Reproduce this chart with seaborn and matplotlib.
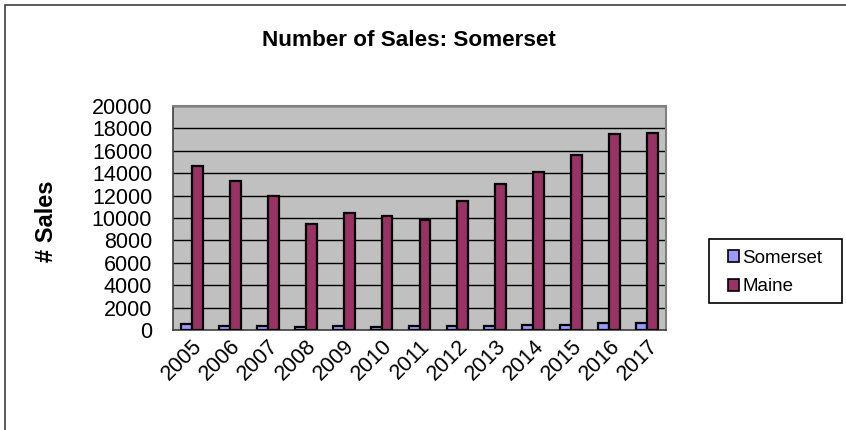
import pandas as pd
import matplotlib
matplotlib.use("Agg")
import matplotlib.pyplot as plt
from matplotlib.patches import Rectangle
from matplotlib.ticker import FixedLocator
import seaborn as sns

years = ["2005", "2006", "2007", "2008", "2009", "2010", "2011",
         "2012", "2013", "2014", "2015", "2016", "2017"]
somerset = [500, 380, 320, 265, 320, 265, 320, 320, 380, 440, 470, 590, 600]
maine = [14630, 13310, 11970, 9500, 10420, 10180, 9850,
         11490, 13050, 14090, 15640, 17490, 17610]
series = ["Somerset", "Maine"]
colors = ["#9999FF", "#993366"]

df = pd.DataFrame({
    "year": years * 2,
    "sales": somerset + maine,
    "area": ["Somerset"] * len(years) + ["Maine"] * len(years),
})

sns.set_style("white")
plt.rcParams["font.family"] = ["Liberation Sans", "DejaVu Sans"]
plt.rcParams["text.color"] = "black"
plt.rcParams["xtick.color"] = "black"
plt.rcParams["ytick.color"] = "black"
plt.rcParams["axes.labelcolor"] = "black"

fig = plt.figure(figsize=(8.46, 4.30), dpi=100)
W, H = 846, 430
ax = fig.add_axes([173 / W, 1 - 330 / H, (666 - 173) / W, (330 - 106) / H])

sns.barplot(data=df, x="year", y="sales", hue="area", hue_order=series,
            palette=colors, width=0.575, edgecolor="black", linewidth=1.6,
            saturation=1, ax=ax, legend=False, zorder=3)

ax.set_facecolor("#C0C0C0")
ax.set_ylim(0, 20000)
ax.set_xlim(-0.5, len(years) - 0.5)
ax.set_yticks(range(0, 20001, 2000))
ax.yaxis.grid(True, color="black", linewidth=1)
ax.set_axisbelow(True)

# ticks between categories, labels in the middle
ax.xaxis.set_minor_locator(FixedLocator([i - 0.5 for i in range(len(years) + 1)]))
ax.tick_params(axis="x", which="minor", length=6, width=1, color="#404040", direction="out")
ax.tick_params(axis="x", which="major", length=0, pad=4, labelsize=15.5)
ax.tick_params(axis="y", length=6, width=1, color="#404040", direction="out", pad=9, labelsize=15.5)
plt.setp(ax.get_xticklabels(), rotation=45, ha="right", rotation_mode="anchor")

for side in ["top", "right"]:
    ax.spines[side].set_color("#808080")
    ax.spines[side].set_linewidth(1.5)
for side in ["left", "bottom"]:
    ax.spines[side].set_color("#404040")
    ax.spines[side].set_linewidth(1.2)

ax.set_xlabel("")
ax.set_ylabel("# Sales", fontsize=17, fontweight="bold")
ax.yaxis.set_label_coords((58 - 173) / 493, (330 - 221) / 224)
fig.text(409 / W, 1 - 40 / H, "Number of Sales: Somerset", ha="center", va="center",
         fontsize=16.2, fontweight="bold")

# legend box drawn separately so its padding matches
fig.patches.append(Rectangle((709 / W, 1 - 303 / H), (842 - 709) / W, 64 / H,
                             transform=fig.transFigure, facecolor="white",
                             edgecolor="black", linewidth=1.2, zorder=1))
handles = [Rectangle((0, 0), 1, 1, facecolor=c, edgecolor="black", linewidth=1.2) for c in colors]
leg = fig.legend(handles, series, loc="upper left",
                 bbox_to_anchor=(728 / W, 1 - 250 / H), borderaxespad=0, fontsize=13.5,
                 frameon=False, handlelength=0.6, handleheight=0.6,
                 handletextpad=0.15, labelspacing=0.6, borderpad=0)

# outer chart border (only top/left visible)
fig.patches.append(Rectangle((5 / W, -0.05), 1.1, 1 - 5 / H + 0.05, transform=fig.transFigure,
                             fill=False, edgecolor="#404040", linewidth=1.2))

fig.savefig("out.png", dpi=100)
